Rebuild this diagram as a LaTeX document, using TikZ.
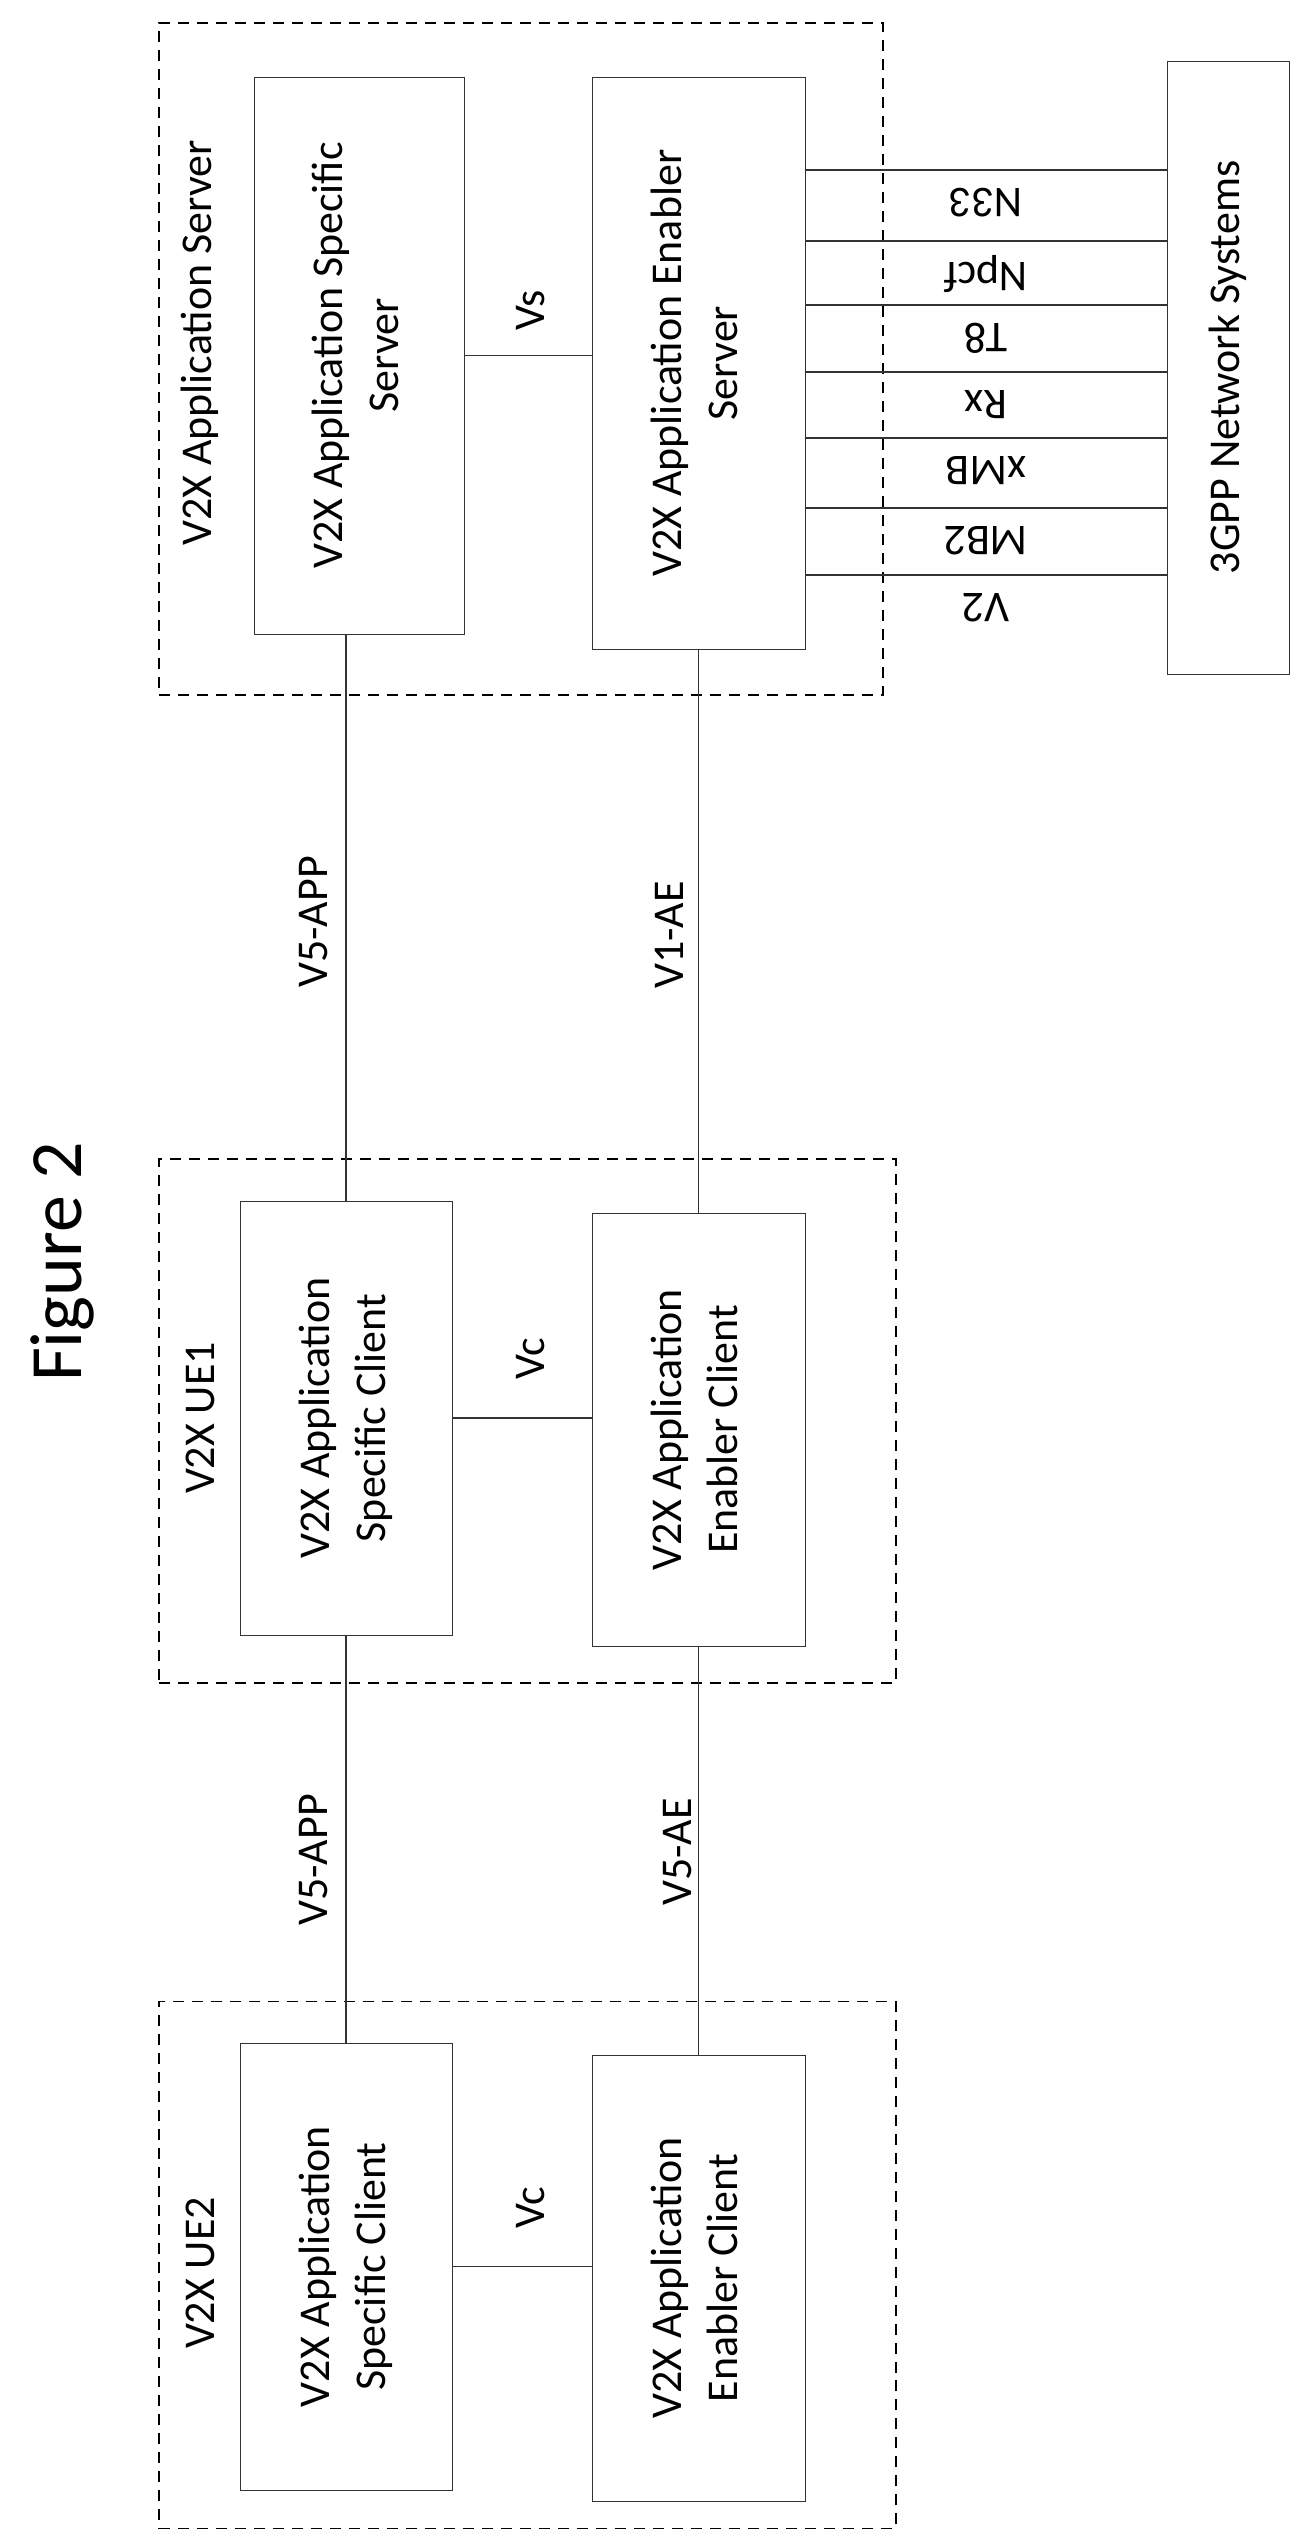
\documentclass[tikz,border=0pt]{standalone}
\usepackage{fontspec}
\setmainfont{Carlito}
\usepackage{graphicx}

\begin{document}
\begin{tikzpicture}[x=0.02cm, y=-0.02cm]
    \tikzset{
      block/.style={draw=black!80, rectangle, inner sep=0pt, font=\fontsize{25}{32}\selectfont, align=center},
      group/.style={draw=black, thick, dashed, dash pattern=on 0.22cm off 0.16cm, rectangle, inner sep=0pt},
      iface/.style={font=\fontsize{25}{30}\selectfont},
      link/.style={draw=black!80, thick}
    }
    \useasboundingbox (0,0) rectangle (1297,2533);
    % groups
    \draw (521,359) node (srv) [group, minimum width=14.48cm, minimum height=13.44cm] {};
    \draw (527.5,1421) node (ue1) [group, minimum width=14.74cm, minimum height=10.48cm] {};
    \draw (527.5,2265) node (ue2) [group, minimum width=14.74cm, minimum height=10.54cm] {};
    \draw (200,343) node [iface] {\rotatebox{90}{V2X Application Server}};
    \draw (200,1418) node [iface] {\rotatebox{90}{V2X UE1}};
    \draw (200,2273) node [iface] {\rotatebox{90}{V2X UE2}};
    \draw (62,1262) node [font=\fontsize{42}{50}\selectfont] {\rotatebox{90}{Figure 2}};
    % blocks
    \draw (359,355.5) node (ss) [block, minimum width=4.2cm, minimum height=11.14cm] {\rotatebox{90}{\begin{tabular}{c}V2X Application Specific\\Server\end{tabular}}};
    \draw (698.5,363) node (es) [block, minimum width=4.26cm, minimum height=11.44cm] {\rotatebox{90}{\begin{tabular}{c}V2X Application Enabler\\Server\end{tabular}}};
    \draw (1228,367.5) node (g3) [block, minimum width=2.44cm, minimum height=12.26cm] {\rotatebox{90}{3GPP Network Systems}};
    \draw (346,1418) node (c1s) [block, minimum width=4.24cm, minimum height=8.68cm] {\rotatebox{90}{\begin{tabular}{c}V2X Application\\Specific Client\end{tabular}}};
    \draw (698.5,1429.5) node (c1e) [block, minimum width=4.26cm, minimum height=8.66cm] {\rotatebox{90}{\begin{tabular}{c}V2X Application\\Enabler Client\end{tabular}}};
    \draw (346,2266.5) node (c2s) [block, minimum width=4.24cm, minimum height=8.94cm] {\rotatebox{90}{\begin{tabular}{c}V2X Application\\Specific Client\end{tabular}}};
    \draw (698.5,2278) node (c2e) [block, minimum width=4.26cm, minimum height=8.92cm] {\rotatebox{90}{\begin{tabular}{c}V2X Application\\Enabler Client\end{tabular}}};

    % links
    \draw[link] (ss.east) -- (ss.east -| es.west);
    \draw[link] (c1s.east) -- (c1s.east -| c1e.west);
    \draw[link] (c2s.east) -- (c2s.east -| c2e.west);
    \draw[link] (ss.south -| c1s) -- (c1s.north);
    \draw[link] (es.south) -- (c1e.north);
    \draw[link] (c1s.south) -- (c2s.north);
    \draw[link] (c1e.south) -- (c2e.north);
    \draw (531,310) node [iface] {\rotatebox{90}{Vs}};
    \draw (531,1359) node [iface] {\rotatebox{90}{Vc}};
    \draw (531,2208) node [iface] {\rotatebox{90}{Vc}};
    \draw (314,922) node [iface] {\rotatebox{90}{V5-APP}};
    \draw (669,935) node [iface] {\rotatebox{90}{V1-AE}};
    \draw (314,1860) node [iface] {\rotatebox{90}{V5-APP}};
    \draw (678,1852) node [iface] {\rotatebox{90}{V5-AE}};
    \foreach \y/\lab in {170/N33, 241/Npcf, 305/T8, 372/Rx, 438/xMB, 508/MB2, 575/V2}
      \draw[link] (es.east |- 0,\y) -- (g3.west |- 0,\y) node [iface, pos=0.5, yshift=-0.66cm] {\rotatebox{180}{\lab}};
\end{tikzpicture}
\end{document}
